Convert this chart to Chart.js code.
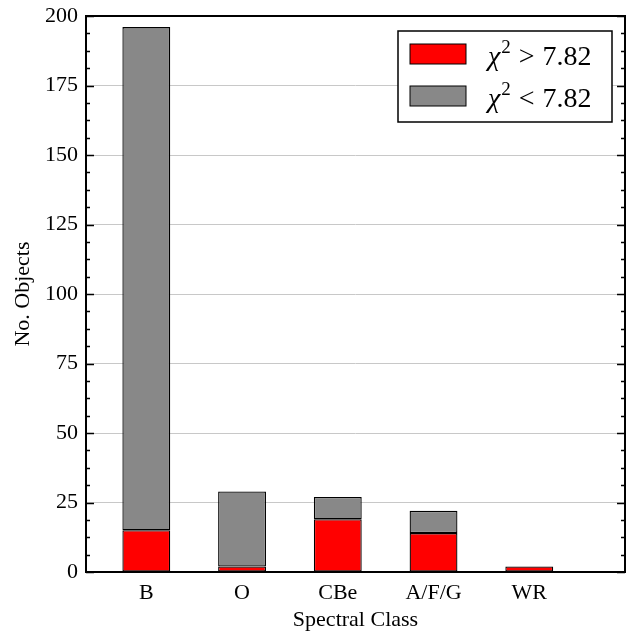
<!DOCTYPE html>
<html>
<head>
<meta charset="utf-8">
<script src="https://cdn.jsdelivr.net/npm/chart.js@4.4.0/dist/chart.umd.min.js"></script>
<style>
html, body { margin: 0; padding: 0; background: #fff; }
</style>
</head>
<body>
<canvas id="chart" width="633" height="635"></canvas>
<script>
// ---- data
const classes = ['B', 'O', 'CBe', 'A/F/G', 'WR'];
const class_pos = [0, 1, 2, 3, 4];
const high_chi = [15, 2, 19, 14, 2];   // chi^2 > 7.82
const low_chi = [181, 27, 8, 8, 0];    // chi^2 < 7.82 (stacked on top)
const y_ticks = [0, 25, 50, 75, 100, 125, 150, 175, 200];
const y_minor_step = 6.25;
const series_labels = ['χ² > 7.82', 'χ² < 7.82'];

const FONT = '"Liberation Serif", "Times New Roman", serif';
Chart.defaults.font.family = FONT;
Chart.defaults.color = '#000';

// frame + inward ticks, like matplotlib
const frame_plugin = {
	id: 'frame',
	afterDatasetsDraw(chart) {
		const ctx = chart.ctx, a = chart.chartArea, ys = chart.scales.y;
		ctx.save();
		ctx.strokeStyle = '#000';
		ctx.lineWidth = 1.5;
		for (let v = ys.min; v <= ys.max + 1e-9; v += y_minor_step) {
			const y = Math.round(ys.getPixelForValue(v)) + 0.5;
			const len = (v % 25 === 0) ? 8 : 4;
			ctx.beginPath();
			ctx.moveTo(a.left, y); ctx.lineTo(a.left + len, y);
			ctx.moveTo(a.right, y); ctx.lineTo(a.right - len, y);
			ctx.stroke();
		}
		ctx.lineWidth = 2;
		ctx.strokeRect(a.left, a.top, a.right - a.left, a.bottom - a.top);
		ctx.restore();
	}
};

// legend box drawn by hand so the superscript 2 works
const legend_plugin = {
	id: 'mpl_legend',
	afterDraw(chart) {
		const ctx = chart.ctx, a = chart.chartArea;
		const box_w = 214, box_h = 91;
		const bx = a.right - 13 - box_w, by = a.top + 15;
		ctx.save();
		ctx.fillStyle = '#fff';
		ctx.fillRect(bx, by, box_w, box_h);
		ctx.lineWidth = 1.5;
		ctx.strokeStyle = '#000';
		ctx.strokeRect(bx, by, box_w, box_h);
		chart.data.datasets.forEach(function(ds, i){
			const py = by + 13 + i * 42;
			ctx.fillStyle = ds.backgroundColor;
			ctx.fillRect(bx + 12, py, 56, 20);
			ctx.lineWidth = 1;
			ctx.strokeRect(bx + 12, py, 56, 20);
			const parts = ds.label.split('²');
			const rest = parts[1].trim().split(' ');
			let tx = bx + 90;
			const base = py + 21;
			ctx.fillStyle = '#000';
			ctx.textBaseline = 'alphabetic';
			ctx.font = 'italic 28px ' + FONT;
			ctx.fillText(parts[0], tx, base);
			tx += ctx.measureText(parts[0]).width + 1;
			ctx.font = '19px ' + FONT;
			ctx.fillText('2', tx, base - 12);
			tx += ctx.measureText('2').width + 8;
			ctx.font = '28px ' + FONT;
			ctx.fillText(rest[0], tx, base);
			tx += ctx.measureText(rest[0]).width + 8;
			ctx.fillText(rest[1], tx, base);
		});
		ctx.restore();
	}
};

new Chart(document.getElementById('chart'), {
	type: 'bar',
	data: {
		datasets: [
			{
				label: series_labels[0],
				data: class_pos.map((x, i) => ({x: x, y: high_chi[i]})),
				backgroundColor: '#ff0000',
				borderColor: '#000',
				borderWidth: 1.3,
				borderSkipped: false,
				categoryPercentage: 1,
				barPercentage: 0.5
			},
			{
				label: series_labels[1],
				data: class_pos.map((x, i) => ({x: x, y: low_chi[i]})),
				backgroundColor: '#888888',
				borderColor: '#000',
				borderWidth: 1.3,
				borderSkipped: false,
				categoryPercentage: 1,
				barPercentage: 0.5
			}
		]
	},
	options: {
		responsive: false,
		animation: false,
		layout: { padding: { top: 16, right: 8, left: 0, bottom: 0 } },
		plugins: { legend: { display: false }, tooltip: { enabled: false } },
		scales: {
			x: {
				type: 'linear',
				stacked: true,
				offset: false,
				min: -0.63,
				max: 5,
				afterBuildTicks: function(s){ s.ticks = class_pos.map(v => ({value: v})); },
				afterFit: function(s){ s.height = 63; s.paddingLeft = 0; s.paddingRight = 0; },
				grid: { display: false, drawTicks: false },
				border: { display: false },
				ticks: {
					font: { size: 22 },
					padding: 8,
					maxRotation: 0,
					callback: function(v){ return classes[v]; }
				},
				title: { display: true, text: 'Spectral Class', font: { size: 22 }, padding: { top: 2, bottom: 2 } }
			},
			y: {
				stacked: true,
				min: 0,
				max: 200,
				afterBuildTicks: function(s){ s.ticks = y_ticks.map(v => ({value: v})); },
				afterFit: function(s){ s.width = 86; s.paddingTop = 0; s.paddingBottom = 0; },
				grid: { color: '#c8c8c8', lineWidth: 1, drawTicks: false },
				border: { display: false },
				ticks: { font: { size: 22 }, padding: 8 },
				title: { display: true, text: 'No. Objects', font: { size: 22 }, padding: { top: 10, bottom: 8 } }
			}
		}
	},
	plugins: [frame_plugin, legend_plugin]
});
</script>
</body>
</html>
